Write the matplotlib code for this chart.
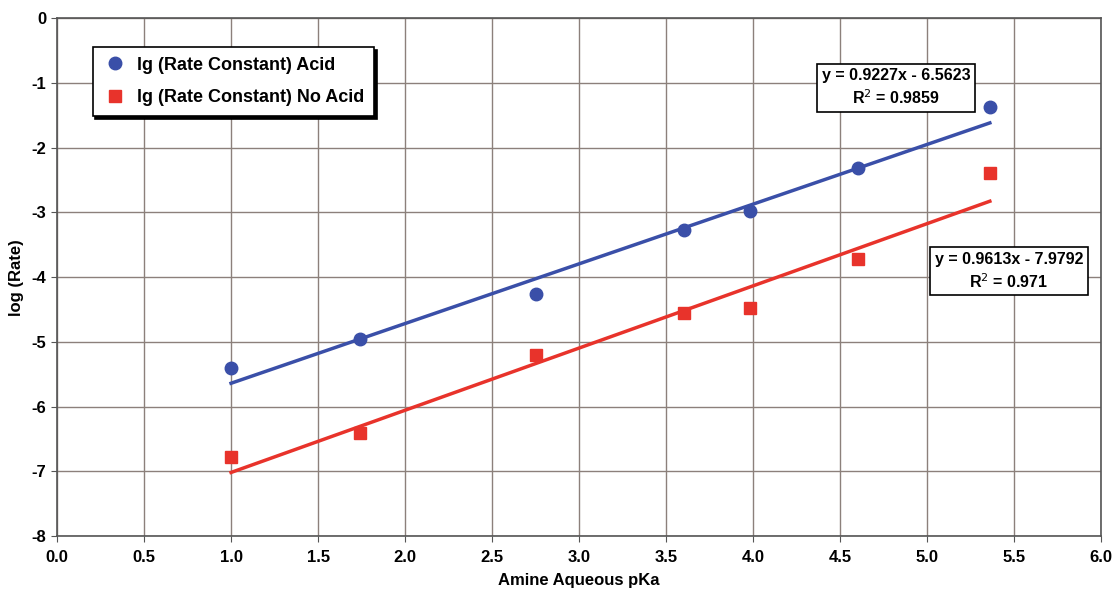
import matplotlib
matplotlib.use("Agg")
import matplotlib.pyplot as plt
import numpy as np

pka = [1.0, 1.74, 2.75, 3.60, 3.98, 4.60, 5.36]
log_acid = [-5.41, -4.96, -4.26, -3.27, -2.98, -2.32, -1.37]
log_noacid = [-6.78, -6.41, -5.20, -4.56, -4.48, -3.72, -2.39]
fit_acid = (0.9227, -6.5623)
fit_noacid = (0.9613, -7.9792)
label_acid = "lg (Rate Constant) Acid"
label_noacid = "lg (Rate Constant) No Acid"
eq_acid = "y = 0.9227x - 6.5623\nR$^2$ = 0.9859"
eq_noacid = "y = 0.9613x - 7.9792\nR$^2$ = 0.971"
xticks = [0.0, 0.5, 1.0, 1.5, 2.0, 2.5, 3.0, 3.5, 4.0, 4.5, 5.0, 5.5, 6.0]
yticks = [0, -1, -2, -3, -4, -5, -6, -7, -8]

plt.rcParams['font.family'] = ['Liberation Sans', 'DejaVu Sans']
blue = '#3a4fa8'
red = '#e8332b'

fig = plt.figure(figsize=(11.18, 5.90), dpi=100)
ax = fig.add_axes([0.051, 0.0915, 0.934, 0.8775])
ax.set_xlim(0, 6)
ax.set_ylim(-8, 0)
ax.set_xticks(xticks)
ax.set_xticklabels([f"{t:.1f}" for t in xticks], fontweight='bold', fontsize=12)
ax.set_yticks(yticks)
ax.set_yticklabels([str(t) for t in yticks], fontweight='bold', fontsize=12)
ax.grid(True, color='#8c807b', linewidth=1.0)
ax.set_axisbelow(True)
for s in ax.spines.values():
    s.set_color('#555555')
    s.set_linewidth(1.2)
ax.tick_params(axis='x', length=4, color='#555555', pad=6)
ax.tick_params(axis='y', length=4, color='#555555')

xl = np.array([min(pka), max(pka)])
ax.plot(xl, fit_acid[0] * xl + fit_acid[1], color=blue, lw=2.5, zorder=3)
ax.plot(xl, fit_noacid[0] * xl + fit_noacid[1], color=red, lw=2.5, zorder=3)
ax.plot(pka, log_acid, 'o', color=blue, ms=9, label=label_acid, zorder=4)
ax.plot(pka, log_noacid, 's', color=red, ms=8.5, label=label_noacid, zorder=4)

leg = ax.legend(loc='upper left', bbox_to_anchor=(0.034, 0.945),
                prop={'weight': 'bold', 'size': 13}, frameon=True, fancybox=False,
                shadow={'color': 'black', 'alpha': 1.0}, edgecolor='black',
                borderpad=0.55, labelspacing=0.85, handletextpad=0.5, handlelength=1.4,
                borderaxespad=0)
leg.get_frame().set_linewidth(1.2)

ax.text(4.82, -1.07, eq_acid, ha='center', va='center', fontsize=11.5, fontweight='bold',
        linespacing=1.3, bbox=dict(boxstyle='square,pad=0.3', fc='white', ec='black', lw=1.2), zorder=5)
ax.text(5.47, -3.91, eq_noacid, ha='center', va='center', fontsize=11.5, fontweight='bold',
        linespacing=1.3, bbox=dict(boxstyle='square,pad=0.3', fc='white', ec='black', lw=1.2), zorder=5)

ax.set_xlabel("Amine Aqueous pKa", fontweight='bold', fontsize=12, labelpad=6)
ax.set_ylabel("log (Rate)", fontweight='bold', fontsize=12, labelpad=6)

fig.savefig("out.png", dpi=100)
